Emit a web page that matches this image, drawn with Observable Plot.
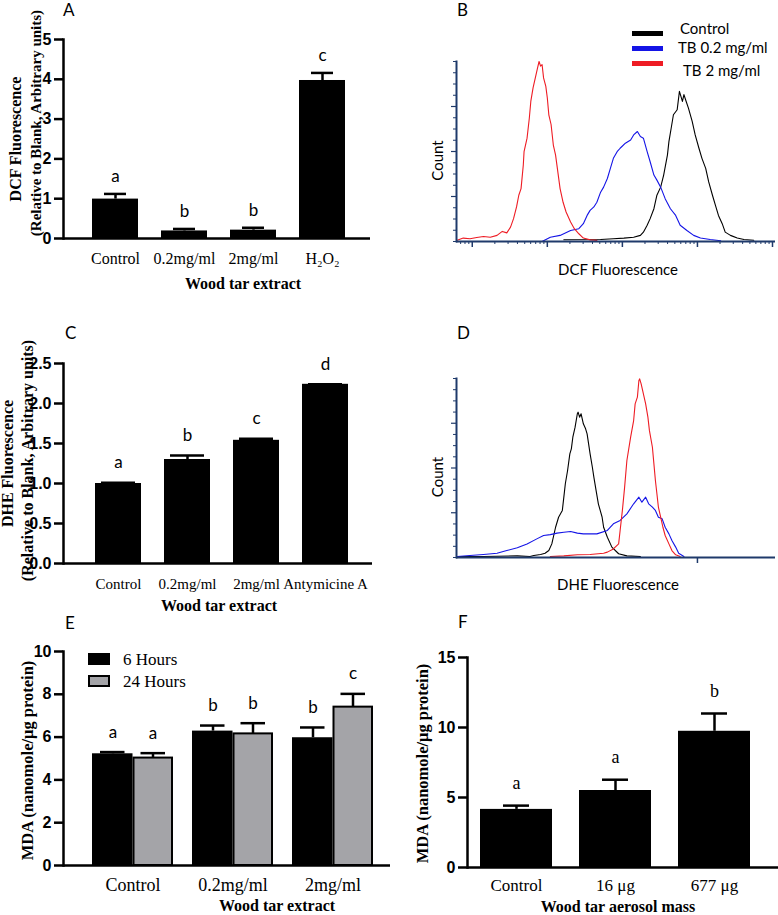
<!DOCTYPE html>
<html><head><meta charset="utf-8">
<script src="https://cdn.jsdelivr.net/npm/d3@7"></script>
<script src="https://cdn.jsdelivr.net/npm/@observablehq/plot@0.6"></script>
<style>
body{margin:0;background:#fff;}
#root{position:relative;width:778px;height:915px;overflow:hidden;background:#fff;}
.lab{position:absolute;line-height:1;white-space:nowrap;color:#000;transform:translateY(-50%);}
svg g[aria-label="y-axis tick label"]{font-family:'Liberation Sans',Arial,sans-serif;font-weight:bold;}
svg g[aria-label="x-axis tick label"]{font-family:'Liberation Serif','Times New Roman',serif;}
</style></head><body><div id="root"></div>
<script>
// ---------- DATA ----------
const catsA = ["Control", "0.2mg/ml", "2mg/ml", "H₂O₂"];
const meanA = [0.99, 0.19, 0.21, 3.97];
const errA  = [1.12, 0.24, 0.27, 4.16];
const letA  = ["a", "b", "b", "c"];
const ticksA = [0, 1, 2, 3, 4, 5];

const catsC = ["Control", "0.2mg/ml", "2mg/ml", "Antymicine A"];
const meanC = [1.00, 1.30, 1.54, 2.24];
const errC  = [1.01, 1.35, 1.56, 2.24];
const letC  = ["a", "b", "c", "d"];
const ticksC = [0, 0.5, 1.0, 1.5, 2.0, 2.5];

const catsE = ["Control", "0.2mg/ml", "2mg/ml"];
const seriesE = ["6 Hours", "24 Hours"];
const mean6h  = [5.22, 6.28, 5.97];
const err6h   = [5.30, 6.54, 6.45];
const let6h   = ["a", "b", "b"];
const mean24h = [5.02, 6.15, 7.40];
const err24h  = [5.25, 6.65, 8.02];
const let24h  = ["a", "b", "c"];
const ticksE = [0, 2, 4, 6, 8, 10];

const catsF = ["Control", "16 μg", "677 μg"];
const meanF = [4.15, 5.50, 9.73];
const errF  = [4.42, 6.27, 11.0];
const letF  = ["a", "a", "b"];
const ticksF = [0, 5, 10, 15];

// flow cytometry histograms: [log10 fluorescence, count (% of max)]
const bControl = [[2.22,1],[2.71,1.1],[2.88,1.5],[3.02,1.9],[3.15,2.4],[3.24,3.4],[3.28,5.2],[3.33,9.0],[3.37,12.7],[3.42,18.2],[3.46,25.7],[3.51,30.2],[3.55,36.9],[3.6,48],[3.62,55.5],[3.65,62.9],[3.68,70.4],[3.73,73.2],[3.76,83.4],[3.8,77.8],[3.82,81.6],[3.85,77.8],[3.88,74.1],[3.93,66.7],[3.97,59.2],[4.02,51.8],[4.06,46.2],[4.11,40.6],[4.15,33.1],[4.2,25.7],[4.24,20.1],[4.28,14.5],[4.33,9.9],[4.37,5.2],[4.44,3.4],[4.53,1.9],[4.62,1.1],[4.75,0.7]];
const bLow = [[1.93,0],[2.04,2.4],[2.17,3.4],[2.31,6.1],[2.42,7.1],[2.48,9.9],[2.53,14.5],[2.57,17.3],[2.62,19.2],[2.66,21.8],[2.71,27.4],[2.75,30.2],[2.8,35.0],[2.84,40.6],[2.88,46.2],[2.93,49.9],[2.97,51.8],[3.04,54.6],[3.11,56.4],[3.15,59.2],[3.2,61.1],[3.24,58.3],[3.28,57.4],[3.33,49.9],[3.37,44.3],[3.42,36.9],[3.46,34.1],[3.51,30.2],[3.57,23.8],[3.64,18.2],[3.71,14.5],[3.77,9.0],[3.86,6.1],[3.95,3.4],[4.04,1.9],[4.17,1.1],[4.31,0.4]];
const bHigh = [[0.79,0.6],[0.88,1.9],[0.97,1.5],[1.06,2.2],[1.15,2.8],[1.24,2.4],[1.33,3.4],[1.40,5.6],[1.46,4.8],[1.51,8.0],[1.55,12.7],[1.59,19.2],[1.62,25.7],[1.65,29.4],[1.68,42.5],[1.69,49.9],[1.73,57.4],[1.76,68.5],[1.78,77.8],[1.81,85.3],[1.84,90.9],[1.87,96.5],[1.89,100],[1.91,97.4],[1.93,98.3],[1.95,90.9],[1.98,86.2],[2.0,79.7],[2.02,70.4],[2.05,65],[2.08,53.6],[2.11,48],[2.14,38.7],[2.17,29.4],[2.21,21.8],[2.25,16.4],[2.31,10.8],[2.36,7.1],[2.42,4.3],[2.48,1.9],[2.57,0.9],[2.66,0.6]];

const dControl = [[0.8,0.6],[1.15,0.6],[1.6,0.9],[1.77,0.6],[1.82,1.1],[1.91,1.7],[1.97,2.4],[2.02,3.9],[2.06,7.6],[2.11,16.9],[2.15,22.5],[2.2,26.3],[2.22,33.7],[2.24,41.2],[2.27,48.6],[2.3,57.9],[2.32,60.7],[2.34,67.2],[2.37,72.8],[2.4,80.3],[2.41,81.2],[2.43,78.4],[2.45,80.3],[2.48,74.7],[2.51,71.9],[2.53,69.1],[2.55,63.5],[2.57,57.9],[2.6,50.4],[2.62,44.9],[2.65,37.4],[2.68,30],[2.73,22.5],[2.75,16.9],[2.8,11.3],[2.86,5.8],[2.95,2.1],[3.06,0.9],[3.24,0.6]];
const dLow = [[0.8,0.6],[0.97,1.1],[1.15,1.7],[1.33,2.4],[1.46,3.9],[1.6,5.4],[1.73,7.6],[1.86,10.4],[1.95,12.3],[2.04,12.8],[2.13,13.6],[2.22,14.1],[2.31,14.5],[2.4,13.6],[2.48,13.2],[2.57,13.2],[2.66,13.2],[2.8,15.1],[2.88,18.8],[2.97,20.7],[3.06,24.4],[3.15,30],[3.22,33.7],[3.26,30.9],[3.31,33.7],[3.35,30],[3.4,28.1],[3.44,26.3],[3.48,22.5],[3.53,21.6],[3.57,16.9],[3.62,13.2],[3.66,9.5],[3.71,5.8],[3.75,2.4],[3.82,0.6]];
const dHigh = [[2.04,0.6],[2.22,0.9],[2.4,1.5],[2.57,1.7],[2.75,2.4],[2.8,3.0],[2.88,4.8],[2.95,7.6],[2.97,15.1],[3.0,26.3],[3.03,39.3],[3.06,54.2],[3.11,67.2],[3.15,76.5],[3.17,85.8],[3.2,89.6],[3.22,98.9],[3.23,99.8],[3.25,97],[3.28,91.4],[3.31,85.8],[3.34,78.4],[3.36,71],[3.4,61.6],[3.42,52.3],[3.44,43],[3.46,35.6],[3.48,28.1],[3.51,22.5],[3.54,16.9],[3.57,12.3],[3.62,7.6],[3.66,3.9],[3.71,1.5],[3.77,0.6]];

const legendB = ["Control", "TB 0.2 mg/ml", "TB 2 mg/ml"];
const colorsB = ["#000000", "#1414e6", "#ee1c24"];
const xMajorB = [1, 2, 3, 4, 5];
const xMajorD = [4];

// ---------- STYLE ----------
const SERIF = "'Liberation Serif','Times New Roman',serif";
const SANS = "'Liberation Sans',Arial,sans-serif";
const CAL = "Lato,'Open Sans',sans-serif";
const NAVY = "#1f3a6b";
const root = document.getElementById("root");
function place(node, left, top) {
  node.style.position = "absolute"; node.style.left = left + "px"; node.style.top = top + "px";
  root.appendChild(node);
}
function label(text, x, y, css) {
  const d = document.createElement("div");
  d.className = "lab"; d.textContent = text;
  d.style.left = x + "px"; d.style.top = y + "px";
  Object.assign(d.style, css || {});
  root.appendChild(d); return d;
}
const st = {overflow: "visible", background: "transparent"};
const fmtInt = d3.format("d");
const xMinorB = d3.range(0, 5).flatMap(d => d3.range(2, 10).map(k => d + Math.log10(k))).filter(u => u >= 0.79 && u <= 5.04);
const yMajorB = [25, 50, 75];
const yMinorB = d3.range(0, 101, 6.25).filter(v => !yMajorB.includes(v));
function vTitle(t, dx, dy, fs) {
  return Plot.text([t], {text: d => d, frameAnchor: "left", textAnchor: "middle", lineAnchor: "middle", rotate: -90, dx, dy, fontSize: fs, fontWeight: "bold", fontFamily: SERIF});
}
function hTitle(t, dx, dy, fs) {
  return Plot.text([t], {text: d => d, frameAnchor: "bottom", textAnchor: "middle", lineAnchor: "middle", dx, dy, fontSize: fs, fontWeight: "bold", fontFamily: SERIF});
}

// ---------- PANEL A ----------
const dA = catsA.map((c, i) => ({cat: c, v: meanA[i], e: errA[i], l: letA[i]}));
place(Plot.plot({
  width: 390, height: 300, marginLeft: 63, marginRight: 20, marginTop: 39, marginBottom: 62, style: st,
  x: {domain: catsA, range: [67, 370], padding: 0.34},
  y: {domain: [0, 5]},
  marks: [
    Plot.barY(dA, {x: "cat", y: "v", fill: "#000"}),
    Plot.ruleX(dA, {x: "cat", y1: "v", y2: "e", stroke: "#000", strokeWidth: 2.5}),
    Plot.tickY(dA, {x: "cat", y: "e", stroke: "#000", strokeWidth: 2.5, insetLeft: 12, insetRight: 12}),
    Plot.text(dA, {x: "cat", y: "e", text: "l", dy: -17, fontSize: 17, fontFamily: CAL}),
    Plot.ruleY([0], {stroke: "#000", strokeWidth: 2.5}),
    Plot.frame({anchor: "left", stroke: "#000", strokeWidth: 2.5}),
    Plot.axisY({ticks: ticksA, tickFormat: fmtInt, tickSize: 9, tickPadding: 3, strokeWidth: 2.5, fontSize: 16, fontWeight: "bold", fontFamily: SANS, label: null}),
    Plot.axisX({tickSize: 0, tickPadding: 14, fontSize: 16, fontFamily: SERIF, label: null}),
    hTitle("Wood tar extract", 26, 45, 16),
    vTitle("DCF Fluorescence", -48, 0, 16),
    vTitle("(Relative to Blank, Arbitrary units)", -27, -16, 15)
  ]
}), 0, 0);

// ---------- PANEL B / D ----------
function flowPanel(series, xMajor, mt, mb, xTitle, titleDy) {
  return Plot.plot({
    width: 388, height: 300, marginLeft: 66, marginRight: 3, marginTop: mt, marginBottom: mb, style: st,
    x: {domain: [0.79, 5.04]},
    y: {domain: [0, 100]},
    marks: [
      ...series.map((s, i) => Plot.line(s, {x: d => d[0], y: d => d[1], stroke: colorsB[i], strokeWidth: 1.1})),
      Plot.ruleY([0], {stroke: NAVY, strokeWidth: 2}),
      Plot.frame({anchor: "left", stroke: NAVY, strokeWidth: 2}),
      Plot.axisX({ticks: xMajor, tickSize: 6, strokeWidth: 1.5, stroke: NAVY, tickFormat: () => "", label: null}),
      ...(xMajor.length > 1 ? [Plot.axisX({ticks: xMinorB, tickSize: 3, strokeWidth: 1, stroke: NAVY, tickFormat: () => "", label: null})] : []),
      Plot.axisY({ticks: yMajorB, tickSize: 5, strokeWidth: 1.2, stroke: NAVY, tickFormat: () => "", label: null}),
      Plot.axisY({ticks: yMinorB, tickSize: 3, strokeWidth: 1, stroke: NAVY, tickFormat: () => "", label: null}),
      Plot.text(["Count"], {text: d => d, frameAnchor: "left", textAnchor: "middle", lineAnchor: "middle", rotate: -90, dx: -18, dy: 9, fontSize: 15, fontFamily: CAL}),
      Plot.text([xTitle], {text: d => d, frameAnchor: "bottom", textAnchor: "middle", lineAnchor: "middle", dy: titleDy, dx: 2, fontSize: 15, fontFamily: CAL})
    ]
  });
}
place(flowPanel([bControl, bLow, bHigh], xMajorB, 61, 59, "DCF Fluorescence", 29), 390, 0);
// legend B
const lgY = [33, 48, 63], lgT = [28, 47, 70], lgX = [680, 678, 683];
legendB.forEach((t, i) => {
  const sw = document.createElement("div");
  Object.assign(sw.style, {position: "absolute", left: "632px", top: (lgY[i] - 2.5) + "px", width: "31px", height: "5px", background: colorsB[i]});
  root.appendChild(sw);
  label(t, lgX[i], lgT[i], {fontFamily: CAL, fontSize: "15px"});
});

// ---------- PANEL C ----------
const dC = catsC.map((c, i) => ({cat: c, v: meanC[i], e: errC[i], l: letC[i]}));
place(Plot.plot({
  width: 390, height: 315, marginLeft: 63, marginRight: 18, marginTop: 63, marginBottom: 52, style: st,
  x: {domain: catsC, range: [70.5, 372], padding: 0.338},
  y: {domain: [0, 2.5]},
  marks: [
    Plot.barY(dC, {x: "cat", y: "v", fill: "#000"}),
    Plot.ruleX(dC, {x: "cat", y1: "v", y2: "e", stroke: "#000", strokeWidth: 2.5}),
    Plot.tickY(dC, {x: "cat", y: "e", stroke: "#000", strokeWidth: 2.5, insetLeft: 6, insetRight: 6}),
    Plot.text(dC, {x: "cat", y: "e", text: "l", dy: -20, fontSize: 17, fontFamily: CAL}),
    Plot.ruleY([0], {stroke: "#000", strokeWidth: 2.5}),
    Plot.frame({anchor: "left", stroke: "#000", strokeWidth: 2.5}),
    Plot.axisY({ticks: ticksC, tickFormat: d3.format(".1f"), tickSize: 9, tickPadding: 3, strokeWidth: 2.5, fontSize: 16, fontWeight: "bold", fontFamily: SANS, label: null}),
    Plot.axisX({tickSize: 0, tickPadding: 15, fontSize: 15, fontFamily: SERIF, label: null}),
    hTitle("Wood tar extract", 1, 42, 16),
    vTitle("DHE Fluorescence", -56, 0, 16),
    vTitle("(Relative to Blank, Arbitrary units)", -36, -3, 16)
  ]
}), 0, 300);

// ---------- PANEL D ----------
place(flowPanel([dControl, dLow, dHigh], xMajorD, 78, 43, "DHE Fluorescence", 28), 390, 300);

// ---------- PANEL E ----------
const dE6 = catsE.map((c, i) => ({cat: c, v: mean6h[i], e: err6h[i], l: let6h[i]}));
const dE24 = catsE.map((c, i) => ({cat: c, v: mean24h[i], e: err24h[i], l: let24h[i]}));
place(Plot.plot({
  width: 390, height: 335, marginLeft: 63, marginRight: 0, marginTop: 71, marginBottom: 50, style: st,
  x: {domain: catsE, range: [71.5, 392.5], padding: 0.194},
  y: {domain: [0, 10]},
  marks: [
    Plot.barY(dE6, {x: "cat", y: "v", fill: "#000", insetRight: 40.5}),
    Plot.barY(dE24, {x: "cat", y: "v", fill: "#a4a4a8", stroke: "#000", strokeWidth: 2, insetLeft: 41.5, insetRight: 1}),
    Plot.ruleX(dE6, {x: "cat", y1: "v", y2: "e", dx: -20, stroke: "#000", strokeWidth: 2.5}),
    Plot.ruleX(dE24, {x: "cat", y1: "v", y2: "e", dx: 20, stroke: "#000", strokeWidth: 2.5}),
    Plot.tickY(dE6, {x: "cat", y: "e", stroke: "#000", strokeWidth: 2.5, insetLeft: 8, insetRight: 48.5}),
    Plot.tickY(dE24, {x: "cat", y: "e", stroke: "#000", strokeWidth: 2.5, insetLeft: 48.5, insetRight: 8}),
    Plot.text(dE6, {x: "cat", y: "e", text: "l", dx: -20, dy: -20, fontSize: 17, fontFamily: CAL}),
    Plot.text(dE24, {x: "cat", y: "e", text: "l", dx: 20, dy: -20, fontSize: 17, fontFamily: CAL}),
    Plot.ruleY([0], {stroke: "#000", strokeWidth: 2.5}),
    Plot.frame({anchor: "left", stroke: "#000", strokeWidth: 2.5}),
    Plot.axisY({ticks: ticksE, tickFormat: fmtInt, tickSize: 9, tickPadding: 3, strokeWidth: 2.5, fontSize: 16, fontWeight: "bold", fontFamily: SANS, label: null}),
    Plot.axisX({tickSize: 0, tickPadding: 13, fontSize: 18, fontFamily: SERIF, label: null}),
    hTitle("Wood tar extract", 50, 40, 16),
    vTitle("MDA (nanomole/μg protein)", -36, 2, 16.5)
  ]
}), 0, 580);
// legend E
[["#000", "none"], ["#a4a4a8", "2px solid #000"]].forEach(([bg, bd], i) => {
  const sw = document.createElement("div");
  Object.assign(sw.style, {position: "absolute", left: "88px", top: (653 + i * 22) + "px", width: "22px", height: "12px", background: bg, border: bd, boxSizing: "border-box"});
  root.appendChild(sw);
  label(seriesE[i], 123, 659 + i * 22, {fontFamily: SERIF, fontSize: "17px"});
});

// ---------- PANEL F ----------
const dF = catsF.map((c, i) => ({cat: c, v: meanF[i], e: errF[i], l: letF[i]}));
place(Plot.plot({
  width: 388, height: 335, marginLeft: 77, marginRight: 0, marginTop: 77, marginBottom: 48, style: st,
  x: {domain: catsF, range: [63, 387], padding: 0.27},
  y: {domain: [0, 15]},
  marks: [
    Plot.barY(dF, {x: "cat", y: "v", fill: "#000"}),
    Plot.ruleX(dF, {x: "cat", y1: "v", y2: "e", stroke: "#000", strokeWidth: 2.5}),
    Plot.tickY(dF, {x: "cat", y: "e", stroke: "#000", strokeWidth: 2.5, insetLeft: 23, insetRight: 23}),
    Plot.text(dF, {x: "cat", y: "e", text: "l", dy: -22, fontSize: 18, fontFamily: SERIF}),
    Plot.ruleY([0], {stroke: "#000", strokeWidth: 2.5}),
    Plot.frame({anchor: "left", stroke: "#000", strokeWidth: 2.5}),
    Plot.axisY({ticks: ticksF, tickFormat: fmtInt, tickSize: 9, tickPadding: 3, strokeWidth: 2.5, fontSize: 16, fontWeight: "bold", fontFamily: SANS, label: null}),
    Plot.axisX({tickSize: 0, tickPadding: 11, fontSize: 17, fontFamily: SERIF, label: null}),
    hTitle("Wood tar aerosol mass", -5, 39, 16),
    vTitle("MDA (nanomole/μg protein)", -45, 1, 16.5)
  ]
}), 390, 580);

// ---------- PANEL LETTERS ----------
const panelLetters = ["A", "B", "C", "D", "E", "F"];
const letterPos = [[63, 9], [457, 9], [65, 332], [457, 332], [65, 622], [458, 621]];
panelLetters.forEach((t, i) => label(t, letterPos[i][0], letterPos[i][1], {fontFamily: CAL, fontSize: "17px"}));
</script></body></html>
